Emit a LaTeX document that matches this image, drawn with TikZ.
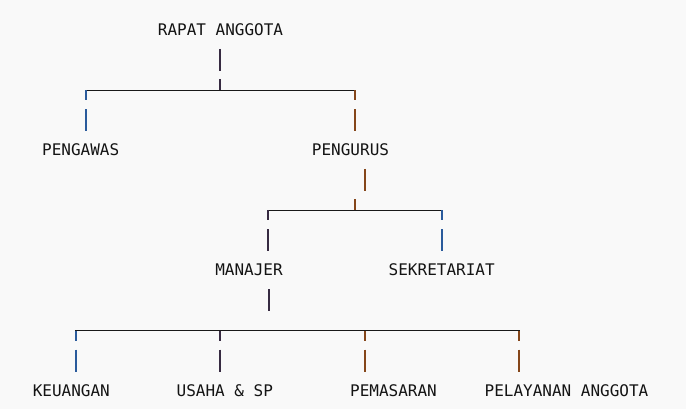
\documentclass[tikz,border=0pt]{standalone}
\usepackage{fontspec}
\setmonofont{DejaVu Sans Mono}
\usetikzlibrary{positioning}
\definecolor{fondo}{HTML}{F9F9F9}
\definecolor{azul}{HTML}{2A5B9C}
\definecolor{cafe}{HTML}{85461A}
\definecolor{oscuro}{HTML}{372B42}
\begin{document}
\begin{tikzpicture}[x=1pt,y=-1pt,
    caja/.style={anchor=base,inner sep=0pt,text=black!92,
      font=\ttfamily\fontsize{16}{16}\selectfont},
    rama/.style={line width=1pt,black!90},
    poste/.style={line width=2pt}]
      \fill[fondo] (0,0) rectangle (686,409);
      \useasboundingbox (0,0) rectangle (686,409);
      % nodos
      \node [caja] (ra) at (220.5,36)  {RAPAT ANGGOTA};
      \node [caja] (pw) at (80.7,156)  {PENGAWAS};
      \node [caja] (pg) at (350.5,156) {PENGURUS};
      \node [caja] (mj) at (249,276)   {MANAJER};
      \node [caja] (sk) at (441.7,276) {SEKRETARIAT};
      \node [caja] (ku) at (71.3,396)  {KEUANGAN};
      \node [caja] (us) at (224.8,396) {USAHA \& SP};
      \node [caja] (pm) at (393.5,396) {PEMASARAN};
      \node [caja] (pl) at (566.5,396) {PELAYANAN ANGGOTA};
      % ramas
      \coordinate (t1) at (220,90.5);
      \coordinate (l1) at (86,90.5);
      \coordinate (r1) at (355,90.5);
      \coordinate (t2) at (355,210.5);
      \coordinate (l2) at (268,210.5);
      \coordinate (r2) at (442,210.5);
      \coordinate (c3a) at (76,330.5);
      \coordinate (c3b) at (220,330.5);
      \coordinate (c3c) at (365,330.5);
      \coordinate (c3d) at (519,330.5);
      \draw[rama] ([xshift=-1pt]l1) -- ([xshift=1pt]r1);
      \draw[rama] ([xshift=-1pt]l2) -- ([xshift=1pt]r2);
      \draw[rama] ([xshift=-1pt]c3a) -- ([xshift=1pt]c3d);
      % rapat anggota
      \draw[poste,oscuro] ([xshift=-0.5pt,yshift=-13pt]ra.base) -- ++(0,22);
      \draw[poste,oscuro] (t1) -- ++(0,-11.5);
      \draw[poste,azul] (l1) -- ++(0,10) ++(0,9) -- ++(0,22);
      \draw[poste,cafe] (r1) -- ++(0,10) ++(0,9) -- ++(0,22);
      % pengurus
      \draw[poste,cafe] ([xshift=14.5pt,yshift=-13pt]pg.base) -- ++(0,22);
      \draw[poste,cafe] (t2) -- ++(0,-11.5);
      \draw[poste,oscuro] (l2) -- ++(0,10) ++(0,9) -- ++(0,21);
      \draw[poste,azul] (r2) -- ++(0,10) ++(0,9) -- ++(0,21);
      % manajer
      \draw[poste,oscuro] ([xshift=20pt,yshift=-13pt]mj.base) -- ++(0,22);
      \draw[poste,azul] (c3a) -- ++(0,10) ++(0,9) -- ++(0,22);
      \draw[poste,oscuro] (c3b) -- ++(0,10) ++(0,9) -- ++(0,22);
      \draw[poste,cafe] (c3c) -- ++(0,10) ++(0,9) -- ++(0,22);
      \draw[poste,cafe] (c3d) -- ++(0,10) ++(0,9) -- ++(0,22);
\end{tikzpicture}
\end{document}
